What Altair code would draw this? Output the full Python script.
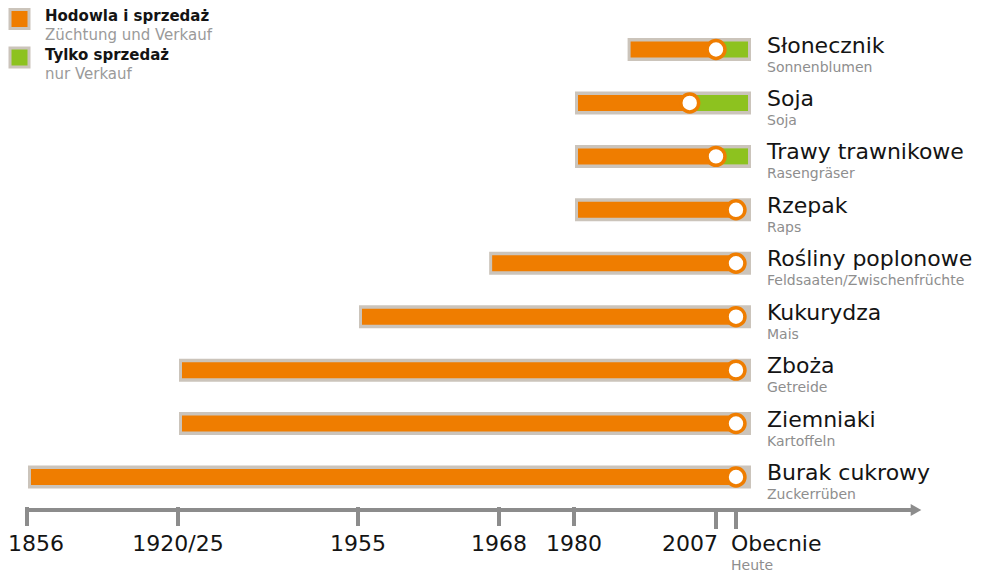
import altair as alt
import pandas as pd

# ---------------- data ----------------
crops_pl = ["Słonecznik", "Soja", "Trawy trawnikowe", "Rzepak", "Rośliny poplonowe",
            "Kukurydza", "Zboża", "Ziemniaki", "Burak cukrowy"]
crops_de = ["Sonnenblumen", "Soja", "Rasengräser", "Raps", "Feldsaaten/Zwischenfrüchte",
            "Mais", "Getreide", "Kartoffeln", "Zuckerrüben"]
NOW = 2013  # "Obecnie" / "Heute"
start_year = [1990, 1980, 1980, 1980, 1967, 1955, 1920, 1920, 1856]
breeding_until = [2007, 2002, 2007, NOW, NOW, NOW, NOW, NOW, NOW]
sale_until = [NOW] * 9

tick_years = [1856, 1920, 1955, 1968, 1980, 2007, NOW]
tick_labels = ["1856", "1920/25", "1955", "1968", "1980", "2007", "Obecnie"]

legend_pl = ["Hodowla i sprzedaż", "Tylko sprzedaż"]
legend_de = ["Züchtung und Verkauf", "nur Verkauf"]

# ---------------- style ----------------
FONT = "DejaVu Sans"
ORANGE = "#ef7d00"
GREEN = "#8dc21f"
FRAME = "#cbc4bb"
AXIS = "#8c8c8c"
SUB = "#8e8e8e"
INK = "#141414"

df = pd.DataFrame({
    "crop": crops_pl, "de": crops_de, "start": start_year,
    "breed": breeding_until, "sale": sale_until,
})
ticks = pd.DataFrame({"year": tick_years, "label": tick_labels})

xs = alt.Scale(domain=tick_years, range=[19, 170, 350, 491, 566, 708, 728],
               zero=False, nice=False)
ys = alt.Scale(type="point", domain=crops_pl, range=[41.5, 469], padding=0)


def X(f):
    return alt.X(f, type="quantitative", scale=xs, axis=None)


Y = alt.Y("crop:N", scale=ys, axis=None)

base = alt.Chart(df)

frame = base.mark_rule(color=FRAME, strokeWidth=23, strokeCap="butt",
                       xOffset=1, x2Offset=15).encode(
    x=X("start"), x2="sale:Q", y=Y)
orange = base.mark_rule(color=ORANGE, strokeWidth=16, strokeCap="butt",
                        xOffset=4).encode(
    x=X("start"), x2="breed:Q", y=Y)
green = base.transform_filter("datum.breed < datum.sale").mark_rule(
    color=GREEN, strokeWidth=16, strokeCap="butt", x2Offset=12).encode(
    x=X("breed"), x2="sale:Q", y=Y)
dots = base.mark_point(shape="circle", filled=True, fill="white", stroke=ORANGE,
                       strokeWidth=3.5, size=320, opacity=1).encode(
    x=X("breed"), y=Y)

name = base.mark_text(align="left", baseline="alphabetic", dy=3, fontSize=22,
                      font=FONT, color=INK).encode(
    x=alt.value(759), y=Y, text="crop:N")
name_de = base.mark_text(align="left", baseline="alphabetic", dy=22, fontSize=14,
                         font=FONT, color=SUB).encode(
    x=alt.value(759), y=Y, text="de:N")

tbase = alt.Chart(ticks)
tick_a = tbase.transform_filter("datum.year < 2007").mark_rule(
    color=AXIS, strokeWidth=4).encode(
    x=X("year"), y=alt.value(499), y2=alt.value(518))
tick_b = tbase.transform_filter("datum.year >= 2007").mark_rule(
    color=AXIS, strokeWidth=4).encode(
    x=X("year"), y=alt.value(502), y2=alt.value(521))

axis_line = tbase.transform_filter("datum.year == 1856").mark_rule(
    color=AXIS, strokeWidth=4).encode(
    x=X("year"), x2=alt.value(905), y=alt.value(502))
arrow = tbase.transform_filter("datum.year == 1856").mark_point(
    shape="triangle-right", filled=True, color=AXIS, size=150, opacity=1).encode(
    x=alt.value(908), y=alt.value(502))

LAB_Y = 543
lab_kw = dict(baseline="alphabetic", fontSize=22, font=FONT, color=INK)
lab_first = tbase.transform_filter("datum.year == 1856").mark_text(
    align="left", dx=-19, **lab_kw).encode(x=X("year"), y=alt.value(LAB_Y), text="label:N")
lab_mid = tbase.transform_filter("datum.year > 1856 && datum.year < 2007").mark_text(
    align="center", **lab_kw).encode(x=X("year"), y=alt.value(LAB_Y), text="label:N")
lab_2007 = tbase.transform_filter("datum.year == 2007").mark_text(
    align="right", dx=2, **lab_kw).encode(x=X("year"), y=alt.value(LAB_Y), text="label:N")
lab_now = tbase.transform_filter("datum.label == 'Obecnie'").mark_text(
    align="left", dx=-5, **lab_kw).encode(x=X("year"), y=alt.value(LAB_Y), text="label:N")
heute = tbase.transform_filter("datum.label == 'Obecnie'").mark_text(
    align="left", dx=-5, baseline="alphabetic", fontSize=14, font=FONT, color=SUB,
    text="Heute").encode(x=X("year"), y=alt.value(562))

legend_layers = []
leg_colors = [ORANGE, GREEN]
leg_y = [11, 49.5]
for i in range(2):
    ld = pd.DataFrame({"pl": [legend_pl[i]], "de": [legend_de[i]]})
    lc = alt.Chart(ld)
    legend_layers.append(lc.mark_square(size=361, color=leg_colors[i], stroke=FRAME,
                                        strokeWidth=3, opacity=1).encode(
        x=alt.value(11.5), y=alt.value(leg_y[i])))
    legend_layers.append(lc.mark_text(align="left", baseline="alphabetic", fontSize=15,
                                      fontWeight="bold", font=FONT, color=INK).encode(
        x=alt.value(37), y=alt.value(leg_y[i] + 2), text="pl:N"))
    legend_layers.append(lc.mark_text(align="left", baseline="alphabetic", fontSize=15,
                                      font=FONT, color="#9a9a9a").encode(
        x=alt.value(37), y=alt.value(leg_y[i] + 21), text="de:N"))

chart = alt.layer(
    axis_line, arrow, tick_a, tick_b,
    frame, orange, green, dots, name, name_de,
    lab_first, lab_mid, lab_2007, lab_now, heute,
    *legend_layers,
).properties(
    width=981, height=566, autosize="none", padding=0, background="white"
).configure_view(stroke=None)

chart.save("out.html", embed_options={"renderer": "svg", "actions": False})
